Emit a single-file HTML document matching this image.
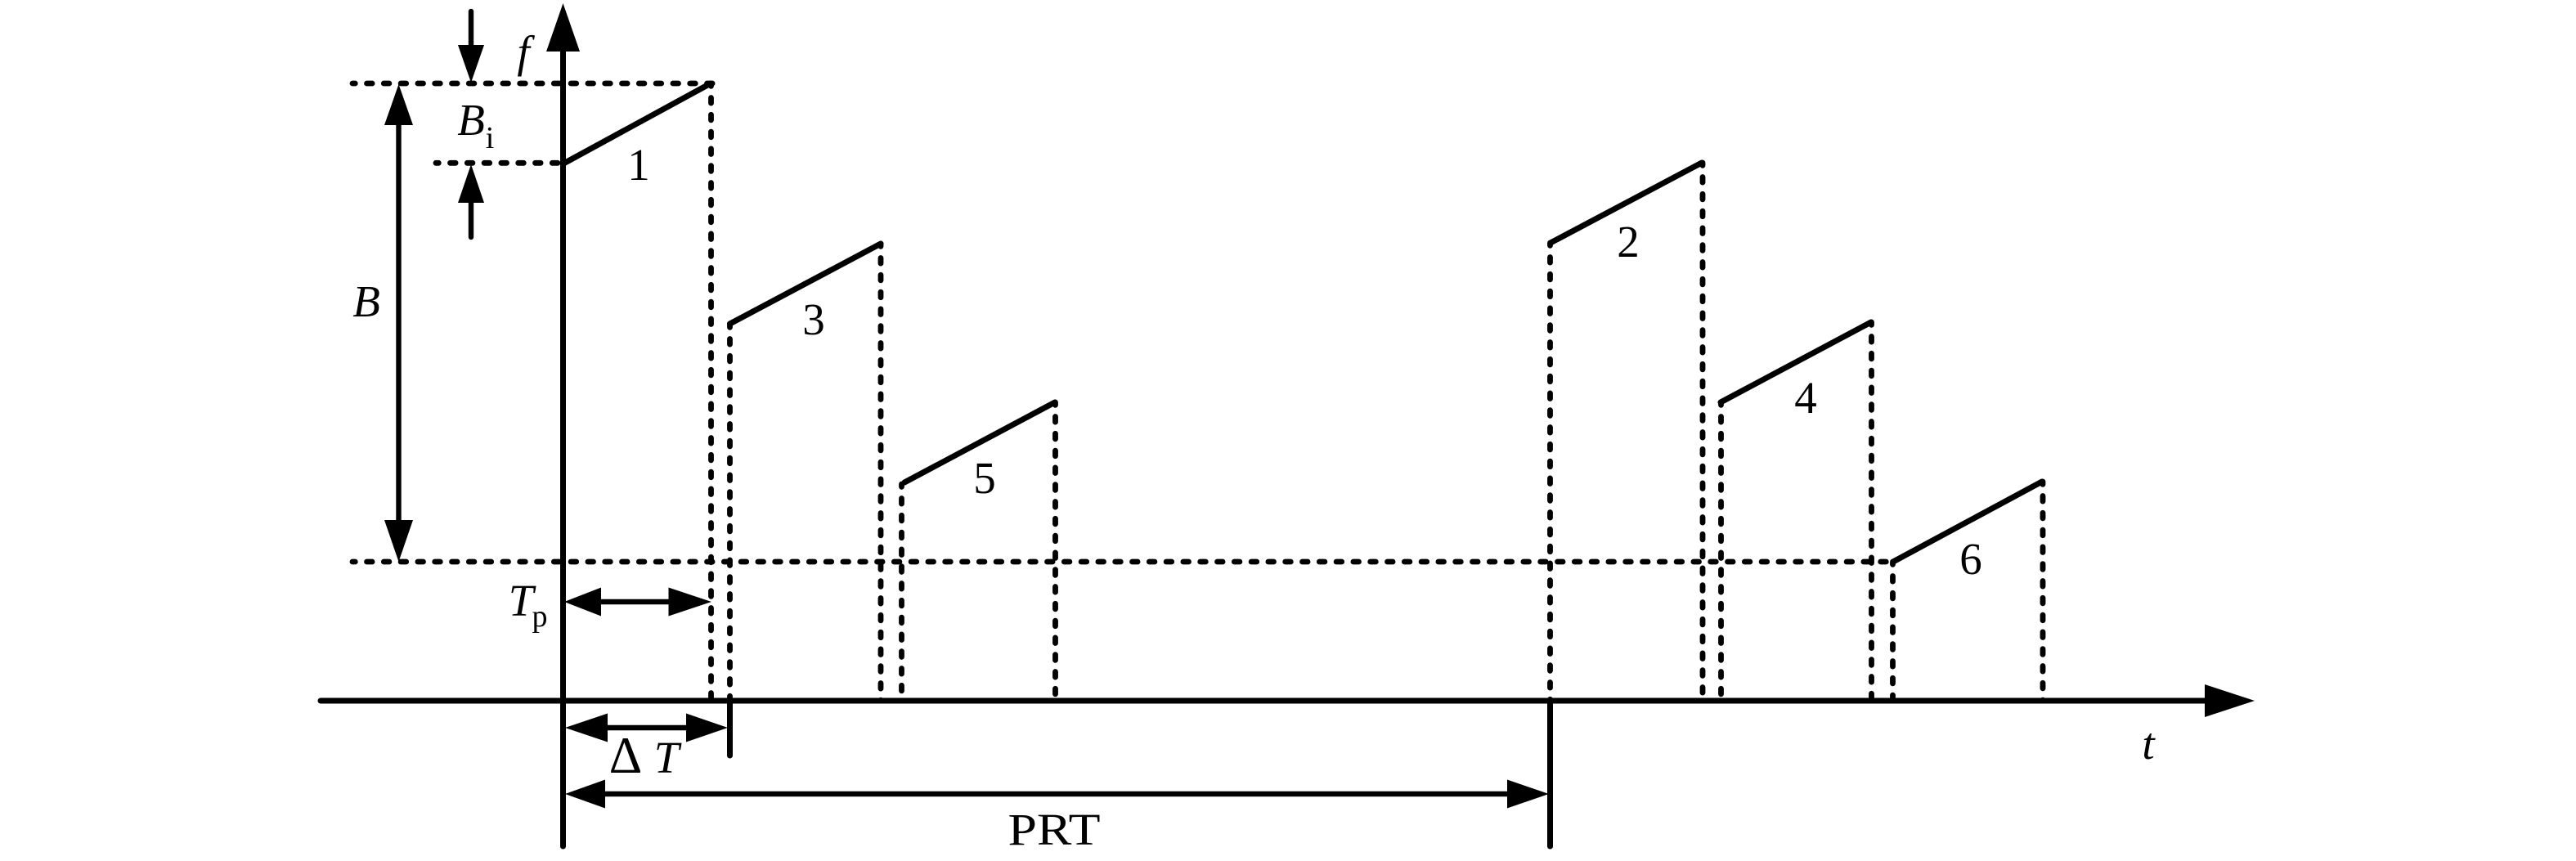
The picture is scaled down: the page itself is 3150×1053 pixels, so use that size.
<!DOCTYPE html>
<html><head><meta charset="utf-8"><style>html,body{margin:0;padding:0;background:#fff}svg{display:block}
text{font-family:"Liberation Serif",serif;font-size:55px;fill:#000;text-anchor:middle}
.i{font-style:italic}.s{font-size:38px}</style></head><body>
<svg width="3150" height="1053" viewBox="0 0 3150 1053" xmlns="http://www.w3.org/2000/svg">
<g stroke="#000" stroke-width="6.8" stroke-linecap="round" fill="none" stroke-dasharray="6.6 14.2" stroke-dashoffset="3.3">
<path d="M431 102H875"/><path d="M533 199.3H688"/><path d="M431 687H2314"/>
<path d="M869.5 102V857"/><path d="M892.5 397V857"/><path d="M1077 298V857"/><path d="M1102.5 592V857"/><path d="M1290.5 492V857"/>
<path d="M1895.5 297V857"/><path d="M2082 199V857"/><path d="M2104.5 492V857"/><path d="M2288.5 394V857"/><path d="M2314.5 687V857"/><path d="M2498 589V857"/>
</g>
<g stroke="#000" stroke-width="7" stroke-linecap="round" fill="none">
<path d="M688.5 60V1035"/><path d="M392 857H2700"/>
<path d="M691 199L869 102"/><path d="M892.5 396L1077 298"/><path d="M1106 590L1290 492"/><path d="M1896 297L2081 199"/><path d="M2104 492L2288 394"/><path d="M2315 687L2497 589"/>
<path d="M892.5 857V924"/><path d="M1895.5 857V1035"/>
<path d="M487.5 150V640" stroke-width="6.4"/><path d="M576 14V60" stroke-width="6.4"/><path d="M576 245V290" stroke-width="6.4"/>
<path d="M730 736H825" stroke-width="6.4"/><path d="M740 890H845" stroke-width="6.4"/><path d="M735 971H1850" stroke-width="6.4"/>
</g>
<g fill="#000">
<polygon points="688.5,4 668,63 709,63"/>
<polygon points="2757,857 2696,837 2696,877"/>
<polygon points="487.5,103 470,153 505,153"/>
<polygon points="487.5,687 470,636 505,636"/>
<polygon points="576,101 560,55 592,55"/>
<polygon points="576,201 560,248 592,248"/>
<polygon points="690,736 735,718.5 735,753.5"/>
<polygon points="870,736 817.5,718.5 817.5,753.5"/>
<polygon points="691,890 743,872.5 743,907.5"/>
<polygon points="890,890 839,872.5 839,907.5"/>
<polygon points="691,971 740,953.5 740,988.5"/>
<polygon points="1894,971 1843,953.5 1843,988.5"/>
</g>
<text class="i" x="640" y="82">f</text>
<text class="i" x="576" y="165">B</text>
<text class="s" x="599" y="181">i</text>
<text x="781" y="220">1</text>
<text x="995" y="409">3</text>
<text x="1204" y="603">5</text>
<text x="1991" y="314">2</text>
<text x="2208" y="505">4</text>
<text x="2410" y="702">6</text>
<text class="i" x="448" y="387">B</text>
<text class="i" x="637" y="753">T</text>
<text class="s" x="660" y="766">p</text>
<text x="765" y="945" style="font-size:63px">Δ</text>
<text class="i" x="815" y="945">T</text>
<text x="1289" y="1033" textLength="113" lengthAdjust="spacingAndGlyphs">PRT</text>
<text class="i" x="2627" y="928">t</text>
</svg>
</body></html>
